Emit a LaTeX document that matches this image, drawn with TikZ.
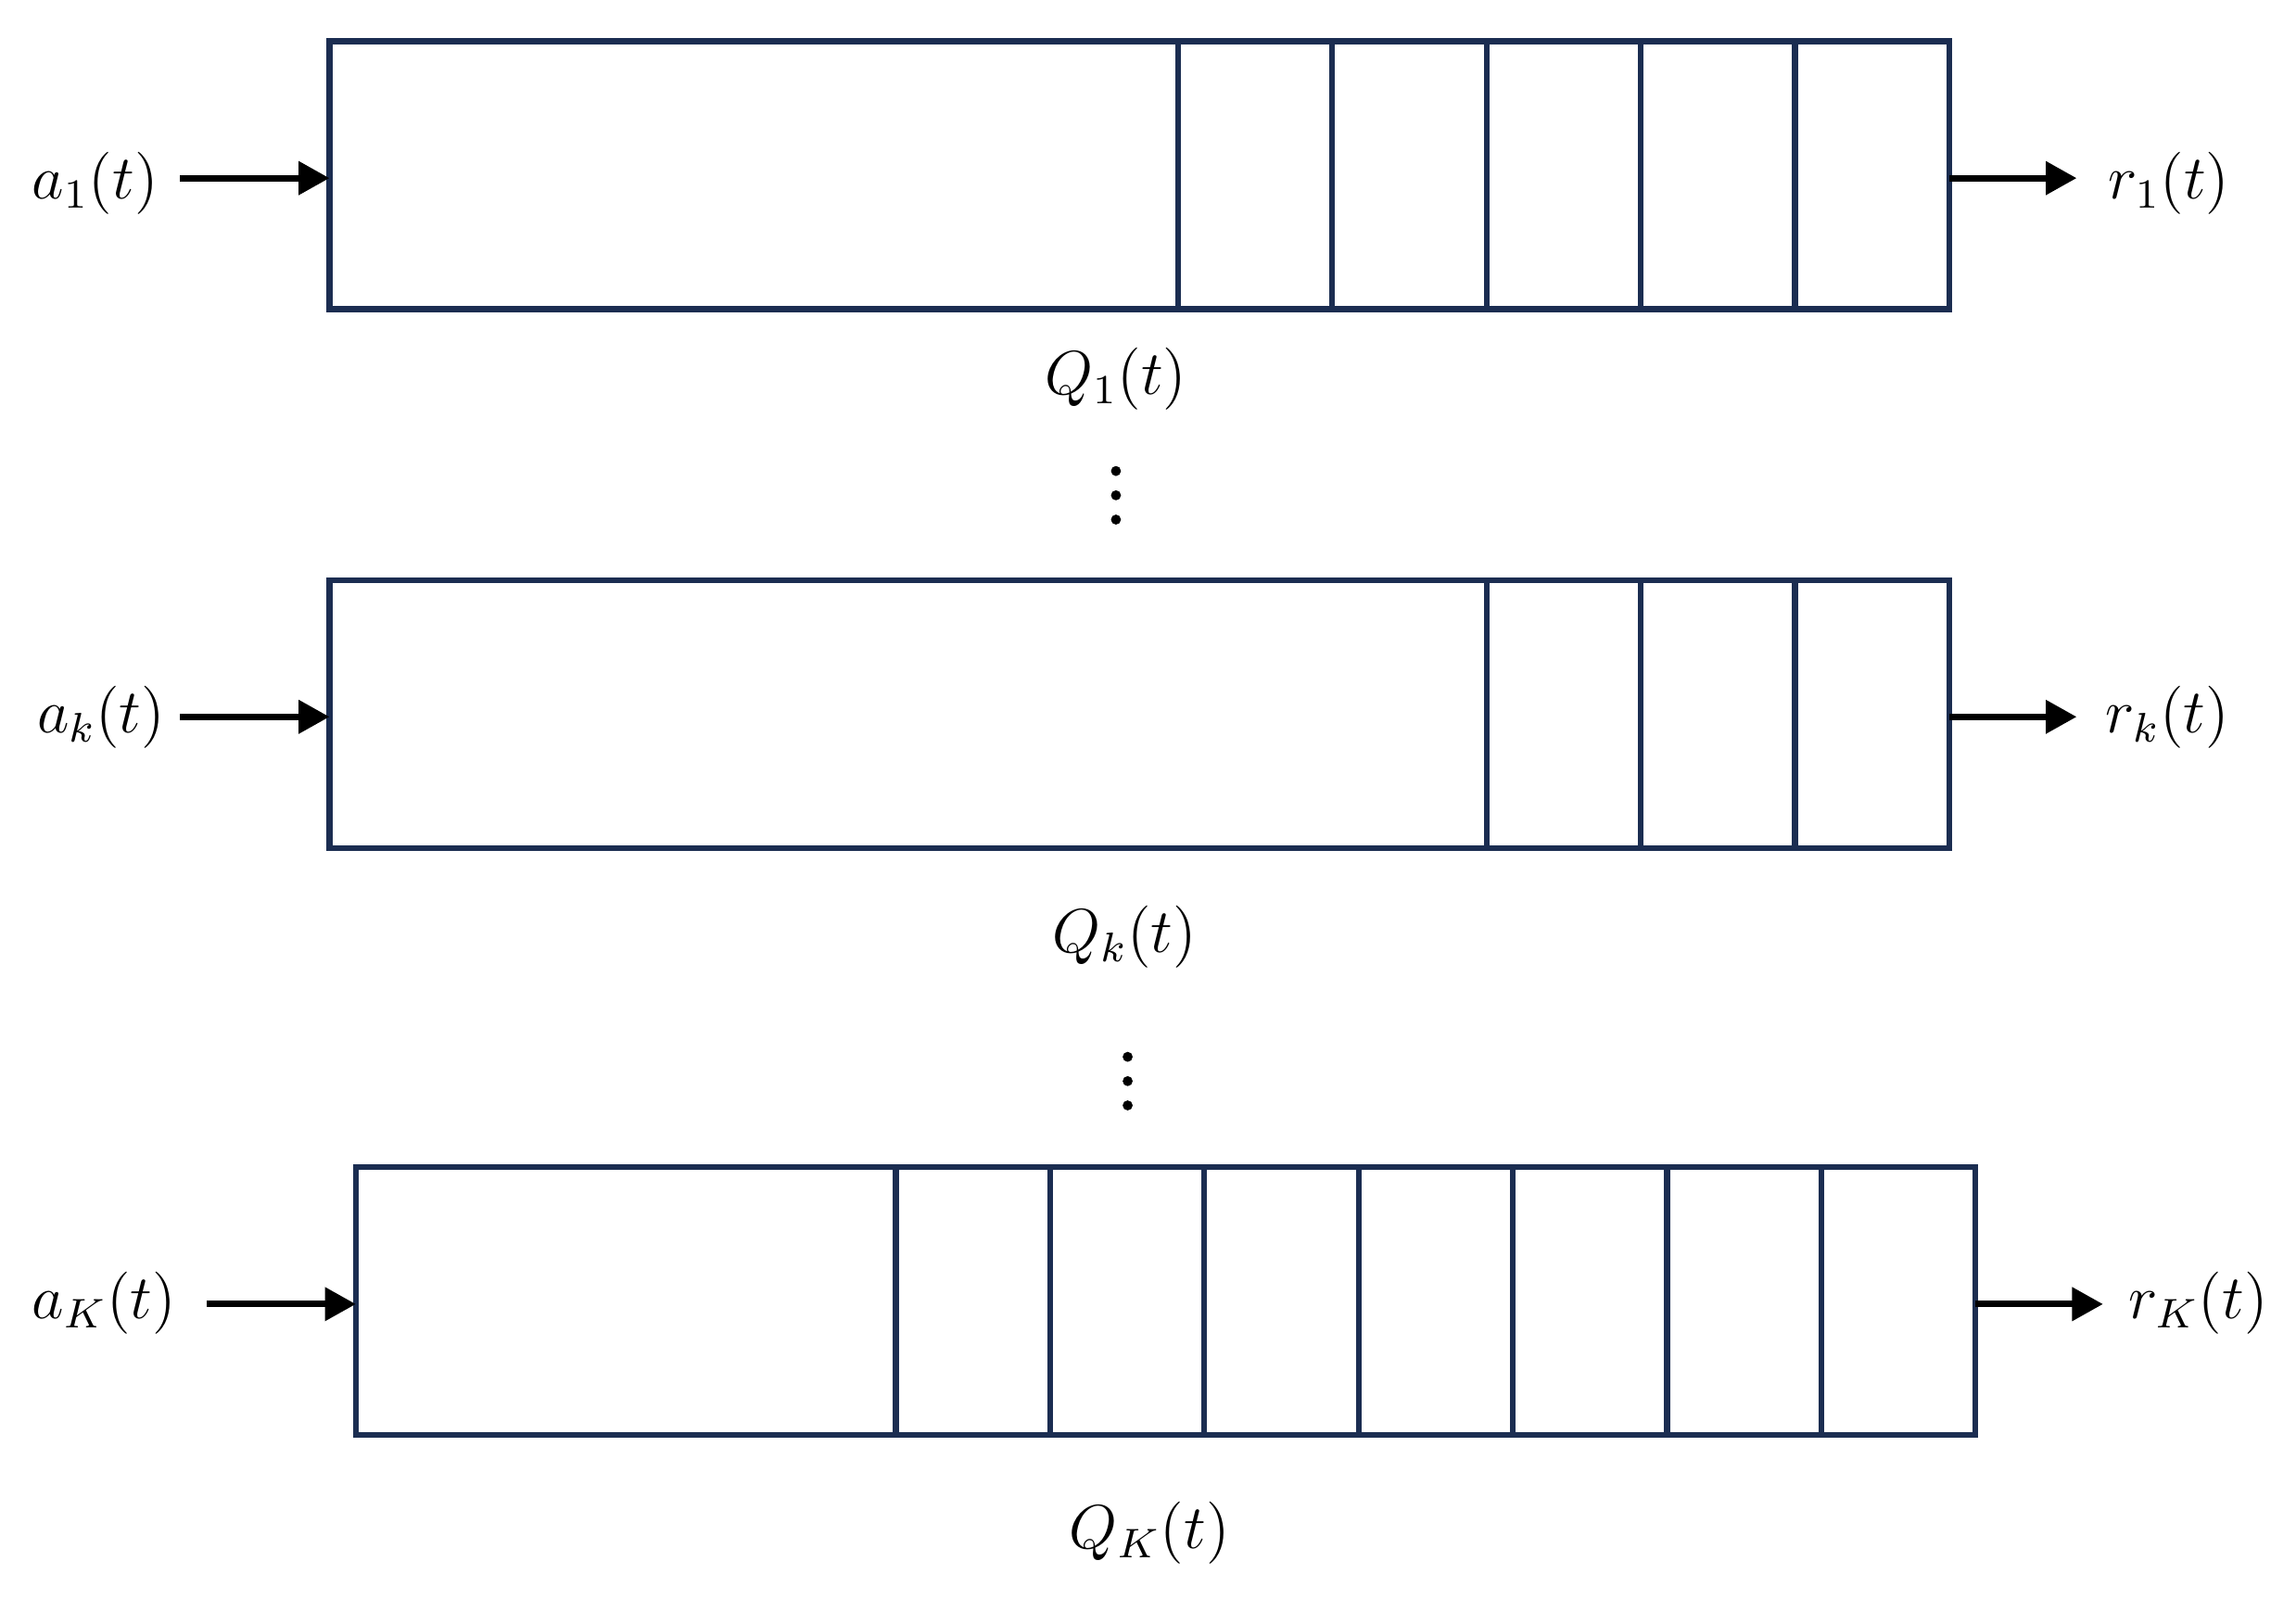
\documentclass[tikz,border=0pt]{standalone}
\usetikzlibrary{arrows.meta}
\definecolor{qblue}{RGB}{27,45,81}
\begin{document}
\begin{tikzpicture}[x=0.0995mm,y=-0.1mm,
  queue/.style={draw=qblue,line width=1.1pt,minimum width=110.05mm,minimum height=18.2mm,inner sep=0pt,outer sep=0pt,anchor=north west},
  cellline/.style={draw=qblue,line width=1.1pt},
  flow/.style={line width=1.25pt,-{Triangle[length=2.1mm,width=2.2mm]}},
  lab/.style={anchor=base,inner sep=0pt,font=\fontsize{12}{14}\selectfont},
  dotmark/.style={circle,fill=black,inner sep=0pt,minimum size=0.68mm}]
\useasboundingbox (0,0) rectangle (1567.8,1086);

% ---- queue 1
\node[queue] (q1) at (225,28) {};
\foreach \i in {1,...,5}
  \draw[cellline] ([xshift={-\i*10.48mm}]q1.north east) -- ([xshift={-\i*10.48mm}]q1.south east);
\node[lab] (a1) at (65,135) {$a_1(t)$};
\node[lab] (r1) at (1481,135) {$r_1(t)$};
\node[lab] (Q1) at (762,268) {$Q_1(t)$};
\coordinate (a1s) at (123,121);
\coordinate (r1e) at (1418,121);
\draw[flow] (a1s) -- (a1s -| q1.west);
\draw[flow] (r1e -| q1.east) -- (r1e);

% dots
\node[dotmark] (d11) at (762,320) {};
\node[dotmark] (d12) at (762,336.5) {};
\node[dotmark] (d13) at (762,353) {};

% ---- queue k
\node[queue] (qk) at (225,394) {};
\foreach \i in {1,...,3}
  \draw[cellline] ([xshift={-\i*10.48mm}]qk.north east) -- ([xshift={-\i*10.48mm}]qk.south east);
\node[lab] (ak) at (69,498) {$a_k(t)$};
\node[lab] (rk) at (1480,498) {$r_k(t)$};
\node[lab] (Qk) at (768,647) {$Q_k(t)$};
\coordinate (aks) at (123,487);
\coordinate (rke) at (1418,487);
\draw[flow] (aks) -- (aks -| qk.west);
\draw[flow] (rke -| qk.east) -- (rke);

% dots
\node[dotmark] (d21) at (770,718) {};
\node[dotmark] (d22) at (770,734.5) {};
\node[dotmark] (d23) at (770,751) {};

% ---- queue K
\node[queue] (qK) at (243,793) {};
\foreach \i in {1,...,7}
  \draw[cellline] ([xshift={-\i*10.48mm}]qK.north east) -- ([xshift={-\i*10.48mm}]qK.south east);
\node[lab] (aK) at (71,896) {$a_K(t)$};
\node[lab] (rK) at (1501,896) {$r_K(t)$};
\node[lab] (QK) at (785,1052) {$Q_K(t)$};
\coordinate (aKs) at (141,886);
\coordinate (rKe) at (1436,886);
\draw[flow] (aKs) -- (aKs -| qK.west);
\draw[flow] (rKe -| qK.east) -- (rKe);
\end{tikzpicture}
\end{document}
